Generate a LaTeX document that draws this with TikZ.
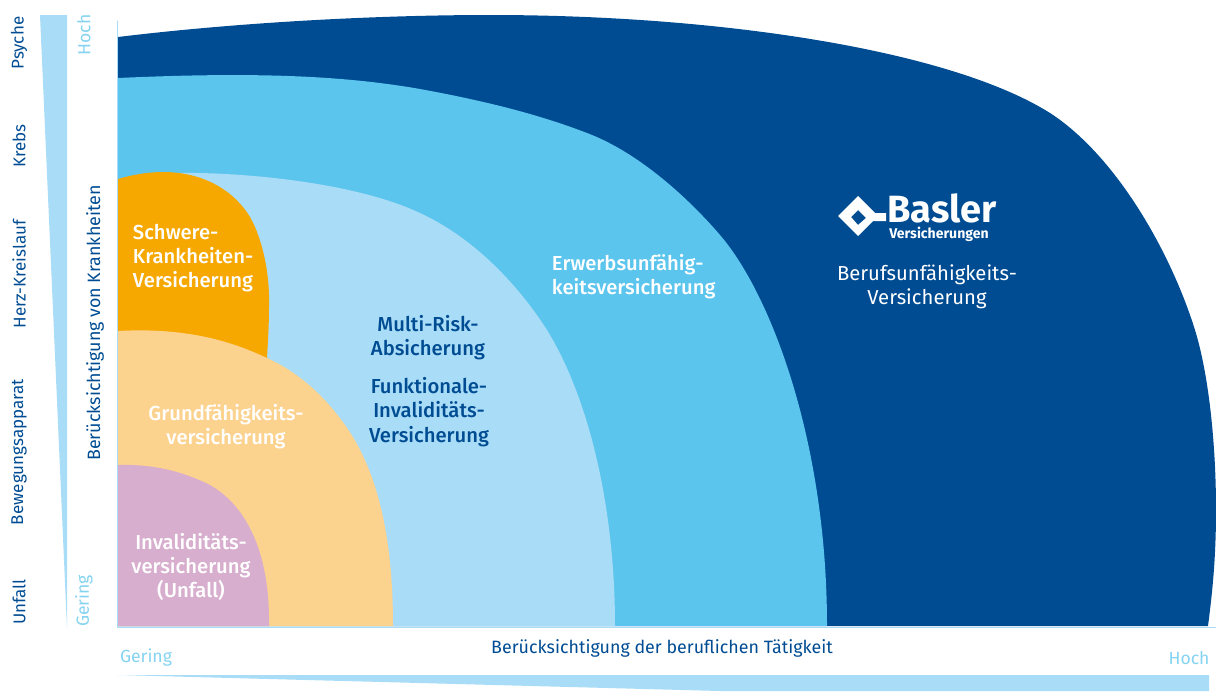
\documentclass[tikz,border=0pt]{standalone}
\usepackage{fontspec}
\setmainfont{Fira Sans}
\newfontfamily\mediumfont{Fira Sans Medium}
\usepackage{xcolor}
\definecolor{baslerdark}{HTML}{004C93}
\definecolor{baslermid}{HTML}{5CC5ED}
\definecolor{baslerpale}{HTML}{A9DCF6}
\definecolor{baslerorange}{HTML}{F6A800}
\definecolor{baslerpeach}{HTML}{FCD28F}
\definecolor{baslerpink}{HTML}{D7AECD}
\tikzset{
  whitelabel/.style={text=white,align=center,font=\fontsize{14.4pt}{17.2pt}\mediumfont\selectfont},
  leftlabel/.style={whitelabel,align=left},
  darklabel/.style={text=baslerdark,align=center,font=\fontsize{14.4pt}{17.2pt}\mediumfont\selectfont},
  sidelabel/.style={text=baslerdark,rotate=90,font=\fontsize{12.1pt}{13pt}\selectfont},
  axislabel/.style={text=baslerdark,font=\fontsize{12.7pt}{14pt}\selectfont},
  endlabel/.style={text=baslermid!75!white,font=\fontsize{12.5pt}{14pt}\selectfont},
  logolabel/.style={text=white,inner sep=0pt},
}
\begin{document}
\begin{tikzpicture}[line cap=round,line join=round,x=0.025cm,y=-0.025cm]
\useasboundingbox (0,0) rectangle (1216,691);
% wedges
\fill[baslerpale] (40,15)--(67,15)--(67,628)--cycle;
\fill[baslerpale] (118,675)--(1209,675)--(1209,691)--(720,691)--cycle;
% axes
\draw[baslerpale,line width=0.6pt] (117.5,21)--(117.5,627)--(1216,627);
% areas, back to front
\fill[baslerdark] (118,37) .. controls (250,21) and (390,15) .. (490,15)
  .. controls (720,15) and (950,50) .. (1050,113)
  .. controls (1115,155) and (1170,250) .. (1195,330)
  .. controls (1208,372) and (1216,440) .. (1216,510)
  .. controls (1216,560) and (1212,595) .. (1208,626)
  -- (118,626)--cycle;
\fill[baslermid] (118,78) .. controls (250,72) and (340,75) .. (420,89)
  .. controls (480,100) and (535,113) .. (587,133)
  .. controls (640,153) and (690,200) .. (720,235)
  .. controls (770,293) and (827,440) .. (827,626)
  -- (118,626)--cycle;
\fill[baslerpale] (180,173) .. controls (230,172) and (350,180) .. (420,213)
  .. controls (470,236) and (515,280) .. (547,330)
  .. controls (590,400) and (615,510) .. (615,626)
  -- (118,626)--cycle;
\fill[baslerorange] (118,179) .. controls (135,174) and (150,172) .. (163,172)
  .. controls (205,172) and (235,192) .. (250,217)
  .. controls (263,240) and (270,275) .. (269,307)
  .. controls (269,325) and (268,340) .. (267,358)
  -- (118,358)--cycle;
\fill[baslerpeach] (118,331) .. controls (190,327) and (235,343) .. (267,358)
  .. controls (300,373) and (325,397) .. (345,425)
  .. controls (375,467) and (393,530) .. (393,626)
  -- (118,626)--cycle;
\fill[baslerpink] (118,465) .. controls (150,464) and (180,470) .. (210,485)
  .. controls (245,505) and (270,550) .. (269,626)
  -- (118,626)--cycle;
% labels in the areas
\node[leftlabel,anchor=west] (schwere) at (128,258) {Schwere-\\Krankheiten-\\Versicherung};
\node[whitelabel] (grund) at (226,427) {Grundfähigkeits-\\versicherung};
\node[whitelabel] (invalid) at (191,567) {Invaliditäts-\\versicherung\\(Unfall)};
\node[darklabel] (multi) at (428,338) {Multi-Risk-\\Absicherung};
\node[darklabel] (funktional) at (429,412) {Funktionale-\\Invaliditäts-\\Versicherung};
\node[leftlabel,anchor=west] (erwerb) at (547,277) {Erwerbsunfähig-\\keitsversicherung};
\node[whitelabel,font=\fontsize{14.4pt}{17.2pt}\selectfont] (beruf) at (927,287) {Berufsunfähigkeits-\\Versicherung};
% logo
\fill[white,even odd rule] (838,216)--(858,196)--(875,213)--(886,213)--(886,221)--(873,221)--(858,236)--cycle
  (851,217)--(858,210)--(866,218)--(858,225)--cycle;
\node[logolabel,font=\fontsize{27pt}{27pt}\bfseries\selectfont] (basler) at (942,208) {Basler};
\node[logolabel,font=\fontsize{10pt}{10pt}\bfseries\selectfont] (versicherungen) at (939,234) {Versicherungen};
% side labels
\node[sidelabel] (psyche) at (19,43) {Psyche};
\node[sidelabel] (krebs) at (19,146) {Krebs};
\node[sidelabel] (herz) at (19,274) {Herz-Kreislauf};
\node[sidelabel] (bewegung) at (19,452) {Bewegungsapparat};
\node[sidelabel] (unfall) at (19,602) {Unfall};
% axis labels
\node[endlabel,rotate=90] (hochy) at (84,35) {Hoch};
\node[endlabel,rotate=90] (geringy) at (84,601) {Gering};
\node[axislabel,rotate=90] (axisy) at (95,323) {Berücksichtigung von Krankheiten};
\node[axislabel] (axisx) at (662,648) {Berücksichtigung der beruflichen Tätigkeit};
\node[endlabel] (geringx) at (146,658) {Gering};
\node[endlabel] (hochx) at (1189,658) {Hoch};
\end{tikzpicture}
\end{document}
